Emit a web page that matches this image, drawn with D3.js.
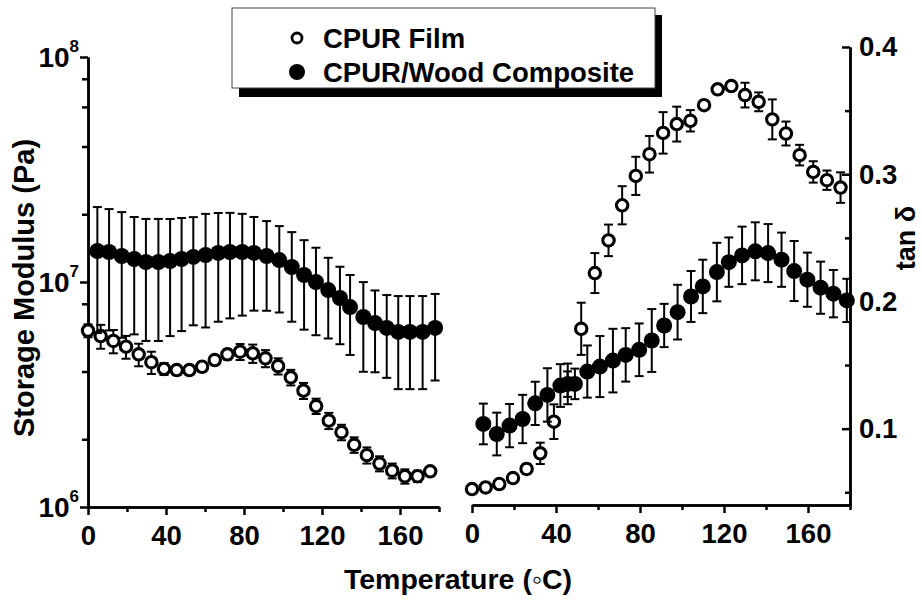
<!DOCTYPE html>
<html>
<head>
<meta charset="utf-8">
<script src="https://cdn.jsdelivr.net/npm/d3@7"></script>
<style>
  body { margin: 0; background: #fff; }
  text { font-family: "Liberation Sans", Arial, Helvetica, sans-serif; font-weight: bold; fill: #000; }
</style>
</head>
<body>
<div id="chart"></div>
<script>
// ---- data ----
// CPUR film: same temperatures for modulus and tan delta
const tempFilm = [0, 6.5, 13, 19.5, 26, 32.5, 39, 45.5, 52, 58.5, 65, 71.5, 78, 84.5, 91, 97.5,
  104, 110.5, 117, 123.5, 130, 136.5, 143, 149.5, 156, 162.5, 169, 175.5];
// storage modulus, MPa (x 10^6 Pa)
const modFilm = [6.08, 5.75, 5.47, 5.16, 4.77, 4.40, 4.11, 4.06, 4.06, 4.20, 4.50, 4.77, 4.90, 4.82,
  4.58, 4.23, 3.77, 3.29, 2.81, 2.42, 2.15, 1.89, 1.70, 1.56, 1.45, 1.37, 1.37, 1.44];
const modFilmErr = [0.4, 0.7, 0.65, 0.6, 0.55, 0.5, 0.25, 0.2, 0.2, 0.2, 0.2, 0.25, 0.4, 0.45,
  0.4, 0.35, 0.3, 0.27, 0.22, 0.2, 0.17, 0.15, 0.14, 0.12, 0.11, 0.1, 0.08, 0.05];
const tanFilm = [0.0525, 0.0538, 0.0565, 0.0612, 0.0683, 0.0806, 0.1055, 0.135, 0.1785, 0.2223,
  0.248, 0.2756, 0.2987, 0.3157, 0.3325, 0.3394, 0.342, 0.3543, 0.3667, 0.3693, 0.3622, 0.3569,
  0.3431, 0.332, 0.315, 0.3018, 0.2953, 0.2895];
const tanFilmErr = [0.002, 0.002, 0.002, 0.003, 0.004, 0.0084, 0.0136, 0.01, 0.0205, 0.0157,
  0.0124, 0.015, 0.015, 0.0144, 0.0163, 0.0137, 0.0084, 0.003, 0.002, 0.003, 0.0097, 0.0074,
  0.0157, 0.0094, 0.0081, 0.0084, 0.0076, 0.012];

// CPUR/Wood composite, storage modulus
const tempCompMod = [4.8, 10.8, 17.3, 23.7, 29.7, 36.1, 42.1, 48.0, 54.0, 60.3, 66.8, 72.8, 79.1,
  85.1, 91.6, 98.1, 104.5, 110.8, 116.9, 123.2, 129.2, 134.4, 141.2, 147.2, 153.2, 159.1, 165.1,
  171.6, 178.0];
const modComp = [13.73, 13.59, 13.05, 12.65, 12.27, 12.27, 12.40, 12.65, 12.92, 13.18, 13.46, 13.59,
  13.59, 13.46, 13.05, 12.52, 11.66, 10.74, 10.0, 9.21, 8.49, 7.74, 6.99, 6.57, 6.25, 6.0, 6.0,
  6.0, 6.25];
const modCompErr = [7.8, 7.5, 7.4, 6.8, 6.8, 6.8, 6.65, 6.6, 6.5, 6.9, 6.8, 6.7, 6.5, 6.0, 5.6,
  5.2, 5.0, 4.6, 4.2, 3.6, 3.2, 3.0, 3.0, 2.6, 2.5, 2.66, 2.66, 2.66, 2.6];

// CPUR/Wood composite, tan delta
const tempCompTan = [5.4, 11.8, 17.9, 24.1, 30.1, 35.9, 42.1, 45.6, 49, 54.9, 60.9, 67.1, 73.2,
  79.6, 85.6, 91.5, 97.9, 104.3, 109.9, 116.6, 122.3, 128.6, 134.9, 141, 147.4, 153.4, 159.7,
  166, 172.1, 178.5];
const tanComp = [0.1037, 0.0958, 0.1024, 0.1076, 0.1199, 0.1265, 0.1339, 0.1352, 0.1352, 0.1449,
  0.1488, 0.1535, 0.158, 0.162, 0.1693, 0.1811, 0.1916, 0.2039, 0.2118, 0.2231, 0.2309, 0.2362,
  0.2394, 0.238, 0.2328, 0.2239, 0.2171, 0.2108, 0.2061, 0.2008];
const tanCompErr = [0.016, 0.0168, 0.017, 0.019, 0.017, 0.021, 0.0168, 0.016, 0.012, 0.0205,
  0.024, 0.025, 0.021, 0.0207, 0.0247, 0.017, 0.0215, 0.02, 0.021, 0.023, 0.0194, 0.0226,
  0.0228, 0.0228, 0.0213, 0.0236, 0.0213, 0.0205, 0.0186, 0.017];

const seriesNames = ["CPUR Film", "CPUR/Wood Composite"];
const tempTicks = [0, 40, 80, 120, 160];
const tempMinor = [20, 60, 100, 140, 180];
const modTicks = [1e6, 1e7, 1e8];
const modMinor = [2e6, 4e6, 6e6, 8e6, 2e7, 4e7, 6e7, 8e7];
const tanTicks = [0.1, 0.2, 0.3, 0.4];
const tanMinor = [0.05, 0.15, 0.25, 0.35];

// ---- setup ----
const W = 922, H = 600;
const svg = d3.select("#chart").append("svg")
  .attr("width", W).attr("height", H);

const xL = d3.scaleLinear().domain([0, 180]).range([88, 439]);
const yL = d3.scaleLog().domain([1e6, 1e8]).range([507, 57]);
const xR = d3.scaleLinear().domain([0, 180]).range([472, 850]);
const yR = d3.scaleLinear().domain([0.04, 0.4]).range([505, 47]);

function styleAxis(g) {
  g.select(".domain").attr("stroke", "#000").attr("stroke-width", 2.5);
  g.selectAll(".tick line").attr("stroke", "#000").attr("stroke-width", 2.5);
  g.selectAll(".tick text").style("font-size", "27.5px").attr("fill", "#000");
}

// bottom axes
function bottomAxis(x, yPos) {
  svg.append("g").attr("transform", `translate(0,${yPos})`)
    .call(d3.axisBottom(x).tickValues(tempTicks).tickSize(8).tickSizeOuter(0).tickPadding(10))
    .call(styleAxis);
  svg.append("g").attr("transform", `translate(0,${yPos})`)
    .call(d3.axisBottom(x).tickValues(tempMinor).tickSize(5).tickSizeOuter(0).tickFormat(""))
    .call(styleAxis);
}
bottomAxis(xL, 507);
bottomAxis(xR, 505);

// left log axis
svg.append("g").attr("transform", "translate(88,0)")
  .call(d3.axisLeft(yL).tickValues(modTicks).tickSize(8).tickSizeOuter(0).tickFormat(""))
  .call(styleAxis);
svg.append("g").attr("transform", "translate(88,0)")
  .call(d3.axisLeft(yL).tickValues(modMinor).tickSize(6).tickSizeOuter(0).tickFormat(""))
  .call(styleAxis);
modTicks.forEach(v => {
  const t = svg.append("text")
    .attr("x", 79).attr("y", yL(v) + 10)
    .attr("text-anchor", "end")
    .style("font-size", "28px");
  t.append("tspan").text("10");
  t.append("tspan").attr("dy", -15).style("font-size", "17px").text(Math.round(Math.log10(v)));
});

// right tan delta axis, ticks pointing in
svg.append("g").attr("transform", "translate(850,0)")
  .call(d3.axisRight(yR).tickValues(tanTicks).tickSize(-8).tickSizeOuter(0)
    .tickPadding(9).tickFormat(d3.format(".1f")))
  .call(styleAxis);
svg.append("g").attr("transform", "translate(850,0)")
  .call(d3.axisRight(yR).tickValues(tanMinor).tickSize(-5).tickSizeOuter(0).tickFormat(""))
  .call(styleAxis);

// axis titles
svg.append("text")
  .attr("transform", "translate(34,288) rotate(-90)")
  .attr("text-anchor", "middle")
  .style("font-size", "29px")
  .text("Storage Modulus (Pa)");
svg.append("text")
  .attr("x", 458).attr("y", 589)
  .attr("text-anchor", "middle")
  .style("font-size", "28.5px")
  .text("Temperature (\u25E6C)");
svg.append("text")
  .attr("transform", "translate(915,238) rotate(-90)")
  .attr("text-anchor", "middle")
  .style("font-size", "27px")
  .text("tan \u03B4");

// ---- series ----
function drawSeries(xs, ys, errs, x, y, filled) {
  const data = xs.map((t, i) => ({t: t, v: ys[i], e: errs[i]}));
  const g = svg.append("g");
  const bars = g.selectAll("g.eb").data(data).join("g").attr("class", "eb")
    .attr("stroke", "#000").attr("stroke-width", 2);
  bars.append("line")
    .attr("x1", d => x(d.t)).attr("x2", d => x(d.t))
    .attr("y1", d => y(d.v - d.e)).attr("y2", d => y(d.v + d.e));
  bars.append("line")
    .attr("x1", d => x(d.t) - 4.5).attr("x2", d => x(d.t) + 4.5)
    .attr("y1", d => y(d.v - d.e)).attr("y2", d => y(d.v - d.e));
  bars.append("line")
    .attr("x1", d => x(d.t) - 4.5).attr("x2", d => x(d.t) + 4.5)
    .attr("y1", d => y(d.v + d.e)).attr("y2", d => y(d.v + d.e));
  g.selectAll("circle").data(data).join("circle")
    .attr("cx", d => x(d.t)).attr("cy", d => y(d.v))
    .attr("r", filled ? 8 : 5.7)
    .attr("fill", filled ? "#000" : "#fff")
    .attr("stroke", "#000")
    .attr("stroke-width", filled ? 0 : 3.1);
}

const toPa = a => a.map(v => v * 1e6);
drawSeries(tempFilm, toPa(modFilm), toPa(modFilmErr), xL, yL, false);
drawSeries(tempCompMod, toPa(modComp), toPa(modCompErr), xL, yL, true);
drawSeries(tempFilm, tanFilm, tanFilmErr, xR, yR, false);
drawSeries(tempCompTan, tanComp, tanCompErr, xR, yR, true);

// ---- legend ----
const leg = svg.append("g");
leg.append("rect").attr("x", 239).attr("y", 15).attr("width", 423).attr("height", 82).attr("fill", "#000");
leg.append("rect").attr("x", 232).attr("y", 8).attr("width", 423).attr("height", 80)
  .attr("fill", "#fff").attr("stroke", "#444").attr("stroke-width", 1);
seriesNames.forEach((name, i) => {
  const cy = 38 + i * 34;
  leg.append("circle").attr("cx", 297).attr("cy", cy)
    .attr("r", i === 0 ? 5 : 8)
    .attr("fill", i === 0 ? "#fff" : "#000")
    .attr("stroke", "#000").attr("stroke-width", i === 0 ? 2.8 : 0);
  leg.append("text").attr("x", 323).attr("y", cy + 10)
    .style("font-size", "27.5px").text(name);
});
</script>
</body>
</html>
